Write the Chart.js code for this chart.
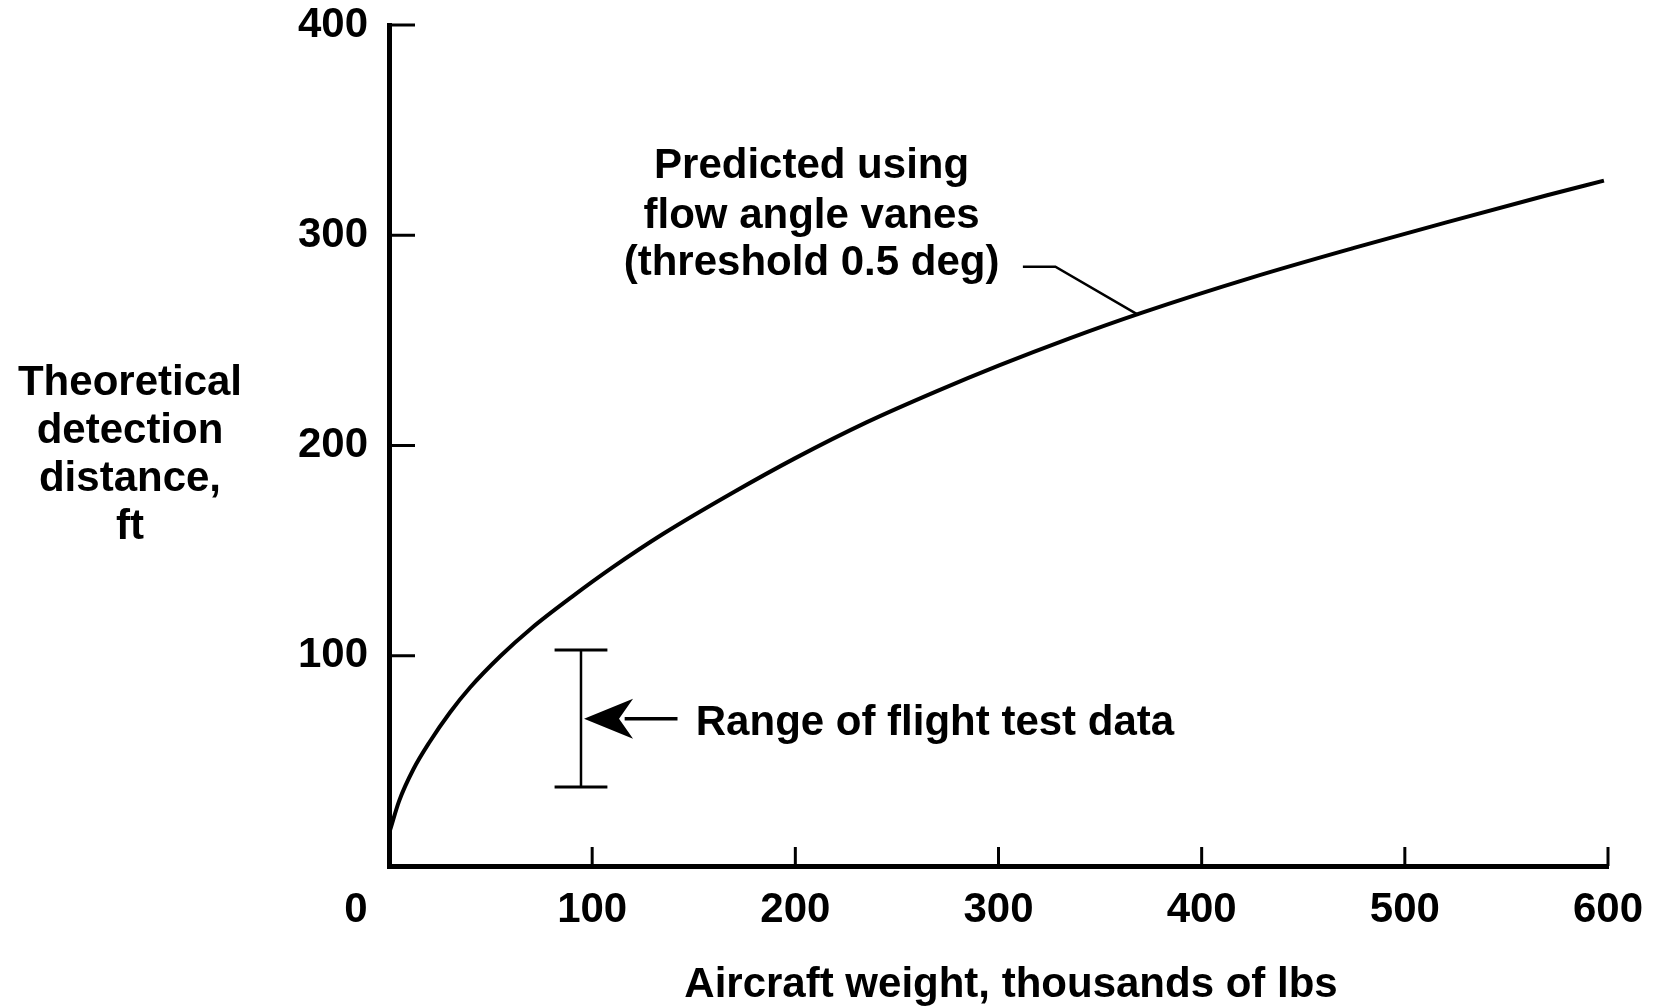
<!DOCTYPE html>
<html>
<head>
<meta charset="utf-8">
<title>Theoretical detection distance</title>
<script src="https://cdn.jsdelivr.net/npm/chart.js@4/dist/chart.umd.min.js"></script>
<style>
  html, body { margin: 0; padding: 0; background: #fff; }
  #wrap { width: 1657px; height: 1008px; }
</style>
</head>
<body>
<div id="wrap"><canvas id="myChart" width="1657" height="1008"></canvas></div>
<script>
// curve (thousands of lbs -> ft)
var weightK = [0.5, 5, 12, 20, 30, 40, 55, 70, 90, 110, 135, 170, 200, 235, 270, 300, 335, 370, 425, 475, 520, 570, 598];
var detectFt = [17, 31, 46, 59, 73, 85, 100, 113, 128, 142, 158, 178, 194, 211, 226, 238, 251, 263, 280, 294, 306, 319, 326];

var xTicks = [0, 100, 200, 300, 400, 500, 600];
var yTicks = [0, 100, 200, 300, 400];

// flight test range bar
var flightX = 94.5;
var flightLow = 37.6;
var flightHigh = 102.7;
var capHalf = 13;

// leader from the label to the curve
var leaderX = [312, 328, 369];
var leaderY = [285, 285, 262];

// arrow pointing at the range bar
var arrowX = [96, 142];
var arrowY = 70;

var curveLabel = ["Predicted using", "flow angle vanes", "(threshold 0.5 deg)"];
var curveLabelX = 208;
var curveLabelY = [332.5, 309, 286.6];
var rangeLabel = "Range of flight test data";
var rangeLabelX = 151;
var rangeLabelY = 68;
var yTitle = ["Theoretical", "detection", "distance,", "ft"];
var xTitle = "Aircraft weight, thousands of lbs";

(function () {
  "use strict";

  var FONT = "'Liberation Sans', Arial, Helvetica, sans-serif";
  var fontSize = 42;

  function pts(xs, ys) {
    var out = [];
    for (var i = 0; i < xs.length; i++) out.push({ x: xs[i], y: ys[i] });
    return out;
  }

  function seg(data, width) {
    return {
      data: data,
      borderColor: "#000",
      borderWidth: width,
      pointRadius: 0,
      tension: 0,
      fill: false,
    };
  }

  var decor = {
    id: "decor",
    afterDraw: function (chart) {
      var ctx = chart.ctx;
      var xs = chart.scales.x;
      var ys = chart.scales.y;
      var a = chart.chartArea;
      ctx.save();
      ctx.strokeStyle = "#000";
      ctx.fillStyle = "#000";
      ctx.lineWidth = 3;

      // ticks point inward
      ys.ticks.forEach(function (t) {
        if (t.value === 0) return;
        var py = ys.getPixelForValue(t.value);
        ctx.beginPath();
        ctx.moveTo(a.left, py);
        ctx.lineTo(a.left + 26, py);
        ctx.stroke();
      });
      xs.ticks.forEach(function (t) {
        if (t.value === 0) return;
        var px = xs.getPixelForValue(t.value);
        ctx.beginPath();
        ctx.moveTo(px, a.bottom);
        ctx.lineTo(px, a.bottom - 19);
        ctx.stroke();
      });

      // arrow head
      var tx = xs.getPixelForValue(arrowX[0]);
      var ty = ys.getPixelForValue(arrowY);
      ctx.beginPath();
      ctx.moveTo(tx, ty);
      ctx.lineTo(tx + 49, ty - 20);
      ctx.lineTo(tx + 35, ty);
      ctx.lineTo(tx + 49, ty + 20);
      ctx.closePath();
      ctx.fill();

      ctx.font = "bold " + fontSize + "px " + FONT;
      ctx.textBaseline = "middle";

      ctx.textAlign = "center";
      for (var i = 0; i < curveLabel.length; i++) {
        ctx.fillText(curveLabel[i], xs.getPixelForValue(curveLabelX), ys.getPixelForValue(curveLabelY[i]));
      }

      ctx.textAlign = "left";
      ctx.fillText(rangeLabel, xs.getPixelForValue(rangeLabelX), ys.getPixelForValue(rangeLabelY));

      ctx.textAlign = "center";
      // shared zero at the corner
      ctx.fillText("0", a.left - 33, a.bottom + 44);
      for (var j = 0; j < yTitle.length; j++) {
        ctx.fillText(yTitle[j], a.left - 259, 383 + j * 48);
      }
      ctx.fillText(xTitle, 1011, 985);
      ctx.restore();
    },
  };

  var ctx = document.getElementById("myChart");
  var myChart = new Chart(ctx, {
    type: "line",
    data: {
      datasets: [
        {
          data: pts(weightK, detectFt),
          borderColor: "#000",
          borderWidth: 4,
          pointRadius: 0,
          cubicInterpolationMode: "monotone",
          fill: false,
        },
        seg(pts(leaderX, leaderY), 2.5),
        seg([{ x: flightX, y: flightLow }, { x: flightX, y: flightHigh }], 2.5),
        seg([{ x: flightX - capHalf, y: flightHigh }, { x: flightX + capHalf, y: flightHigh }], 3),
        seg([{ x: flightX - capHalf, y: flightLow }, { x: flightX + capHalf, y: flightLow }], 3),
        seg([{ x: arrowX[0] + 20, y: arrowY }, { x: arrowX[1], y: arrowY }], 3.5),
      ],
    },
    options: {
      responsive: false,
      animation: false,
      events: [],
      layout: { padding: { top: 25, right: 49, left: 0, bottom: 0 } },
      plugins: { legend: { display: false }, tooltip: { enabled: false } },
      scales: {
        x: {
          type: "linear",
          min: 0,
          max: 600,
          afterBuildTicks: function (scale) {
            scale.ticks = xTicks.map(function (v) { return { value: v }; });
          },
          afterFit: function (scale) {
            scale.height = 142;
            scale.paddingLeft = 0;
            scale.paddingRight = 0;
          },
          grid: { display: false, drawTicks: false },
          border: { display: true, color: "#000", width: 5 },
          ticks: {
            color: "#000",
            padding: 19,
            font: { family: FONT, size: fontSize, weight: "bold" },
            callback: function (v) { return v === 0 ? "" : v; },
          },
        },
        y: {
          type: "linear",
          min: 0,
          max: 400,
          afterBuildTicks: function (scale) {
            scale.ticks = yTicks.map(function (v) { return { value: v }; });
          },
          afterFit: function (scale) {
            scale.width = 389;
            scale.paddingTop = 0;
            scale.paddingBottom = 0;
          },
          grid: { display: false, drawTicks: false },
          border: { display: true, color: "#000", width: 5 },
          ticks: {
            color: "#000",
            padding: 21,
            font: { family: FONT, size: fontSize, weight: "bold" },
            callback: function (v) { return v === 0 ? "" : v; },
          },
        },
      },
    },
    plugins: [decor],
  });
})();
</script>
</body>
</html>
